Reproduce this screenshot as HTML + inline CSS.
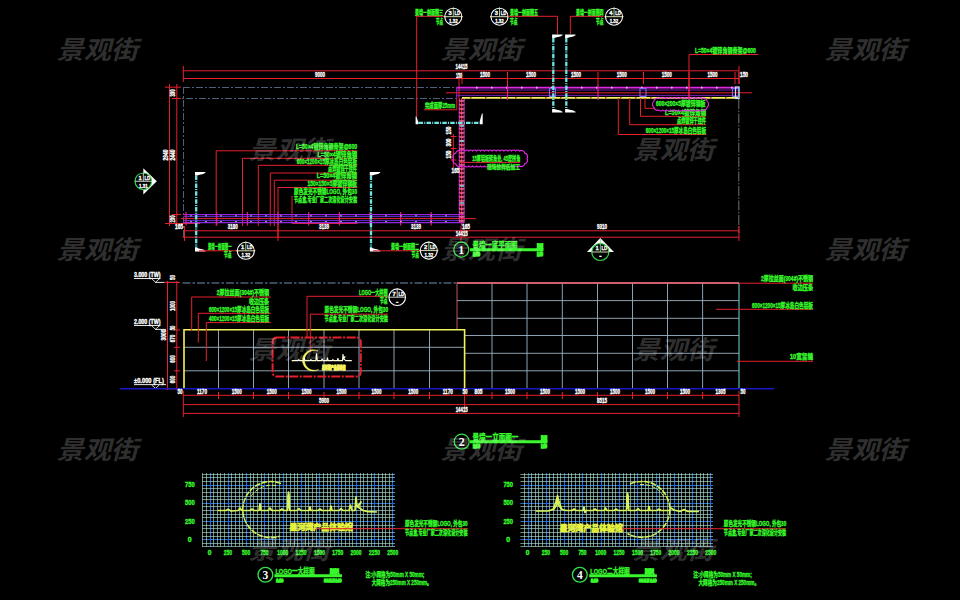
<!DOCTYPE html>
<html lang="zh"><head><meta charset="utf-8"><title>景墙详图</title>
<style>
html,body{margin:0;padding:0;background:#000;}
body{width:960px;height:600px;overflow:hidden;}
svg{display:block;font-family:"Liberation Sans","Noto Sans CJK SC",sans-serif;}
</style></head><body>
<svg width="960" height="600" viewBox="0 0 960 600">
<defs><clipPath id="cpA"><rect x="580" y="230" width="40" height="21.8"/></clipPath></defs>
<rect width="960" height="600" fill="#000"/>
<g id="plan">
<line x1="183" y1="87.5" x2="456.5" y2="87.5" stroke="#4d607a" stroke-width="1" stroke-dasharray="7 2 2 2"/>
<line x1="173" y1="98.5" x2="456.5" y2="98.5" stroke="#4d607a" stroke-width="1" stroke-dasharray="7 2 2 2"/>
<line x1="183.5" y1="87" x2="183.5" y2="238" stroke="#4d607a" stroke-width="1" stroke-dasharray="7 2 2 2"/>
<line x1="738.8" y1="99" x2="738.8" y2="233" stroke="#7c7c86" stroke-width="0.9" stroke-dasharray="10 1.5 1.5 1.5"/>
<line x1="183" y1="70.8" x2="739" y2="70.8" stroke="#e6212d" stroke-width="1"/>
<line x1="183" y1="78.5" x2="739" y2="78.5" stroke="#e6212d" stroke-width="1"/>
<line x1="183.3" y1="66" x2="183.3" y2="82" stroke="#e6212d" stroke-width="1"/>
<line x1="462" y1="72" x2="462" y2="84" stroke="#e6212d" stroke-width="1"/>
<line x1="507.5" y1="72" x2="507.5" y2="84" stroke="#e6212d" stroke-width="1"/>
<line x1="553" y1="72" x2="553" y2="84" stroke="#e6212d" stroke-width="1"/>
<line x1="598" y1="72" x2="598" y2="84" stroke="#e6212d" stroke-width="1"/>
<line x1="643.5" y1="72" x2="643.5" y2="84" stroke="#e6212d" stroke-width="1"/>
<line x1="689" y1="72" x2="689" y2="84" stroke="#e6212d" stroke-width="1"/>
<line x1="735" y1="72" x2="735" y2="84" stroke="#e6212d" stroke-width="1"/>
<line x1="739" y1="72" x2="739" y2="84" stroke="#e6212d" stroke-width="1"/>
<line x1="739" y1="66" x2="739" y2="84" stroke="#e6212d" stroke-width="1"/>
<line x1="459" y1="78.5" x2="459" y2="98" stroke="#e6212d" stroke-width="1"/>
<line x1="169.5" y1="84" x2="169.5" y2="226" stroke="#e6212d" stroke-width="1"/>
<line x1="176.8" y1="84" x2="176.8" y2="226" stroke="#e6212d" stroke-width="1"/>
<line x1="165" y1="87.2" x2="181" y2="87.2" stroke="#e6212d" stroke-width="1"/>
<line x1="172" y1="98.5" x2="181" y2="98.5" stroke="#e6212d" stroke-width="1"/>
<line x1="165" y1="223.5" x2="200" y2="223.5" stroke="#e6212d" stroke-width="1"/>
<line x1="172" y1="214.5" x2="181" y2="214.5" stroke="#e6212d" stroke-width="1"/>
<line x1="185" y1="230.8" x2="739" y2="230.8" stroke="#e6212d" stroke-width="1"/>
<line x1="182.5" y1="237.2" x2="739" y2="237.2" stroke="#e6212d" stroke-width="1"/>
<line x1="184.5" y1="226" x2="184.5" y2="241" stroke="#e6212d" stroke-width="1"/>
<line x1="278" y1="226" x2="278" y2="241" stroke="#e6212d" stroke-width="1"/>
<line x1="464" y1="226" x2="464" y2="234" stroke="#e6212d" stroke-width="1"/>
<line x1="739" y1="226" x2="739" y2="241" stroke="#e6212d" stroke-width="1"/>
<line x1="461" y1="226" x2="461" y2="241" stroke="#e6212d" stroke-width="1"/>
<polyline points="357.5,150.8 216.2,150.8 216.2,226" fill="none" stroke="#e6212d" stroke-width="1" />
<polyline points="357.5,158.3 242.5,158.3 242.5,226" fill="none" stroke="#e6212d" stroke-width="1" />
<polyline points="357.5,165.3 258.3,165.3 258.3,226" fill="none" stroke="#e6212d" stroke-width="1" />
<polyline points="357.5,173 270.3,173 270.3,226" fill="none" stroke="#e6212d" stroke-width="1" />
<polyline points="357.5,180.2 274.3,180.2 274.3,226" fill="none" stroke="#e6212d" stroke-width="1" />
<polyline points="357.5,187.5 278,187.5 278,238" fill="none" stroke="#e6212d" stroke-width="1" />
<polyline points="292,196 292,223.5 357.5,223.5" fill="none" stroke="#e6212d" stroke-width="1" />
<text x="296" y="149.468" fill="#38f82c" font-size="6.3" textLength="61" lengthAdjust="spacingAndGlyphs" font-weight="bold" stroke="#38f82c" stroke-width=".35" >L=50×4镀锌角钢骨架@600</text>
<text x="317.5" y="156.568" fill="#38f82c" font-size="6.3" textLength="39.5" lengthAdjust="spacingAndGlyphs" font-weight="bold" stroke="#38f82c" stroke-width=".35" >L=50×4镀锌角钢</text>
<text x="296.7" y="163.668" fill="#38f82c" font-size="6.3" textLength="60.3" lengthAdjust="spacingAndGlyphs" font-weight="bold" stroke="#38f82c" stroke-width=".35" >600×1200×15厚冰岛白色铝板</text>
<text x="328" y="171.468" fill="#38f82c" font-size="6.3" textLength="29" lengthAdjust="spacingAndGlyphs" font-weight="bold" stroke="#38f82c" stroke-width=".35" >点焊镀锌干挂件</text>
<text x="316.7" y="178.268" fill="#38f82c" font-size="6.3" textLength="40.3" lengthAdjust="spacingAndGlyphs" font-weight="bold" stroke="#38f82c" stroke-width=".35" >L=50×4镀锌角钢</text>
<text x="307.5" y="185.968" fill="#38f82c" font-size="6.3" textLength="49.5" lengthAdjust="spacingAndGlyphs" font-weight="bold" stroke="#38f82c" stroke-width=".35" >150×150×5厚镀锌钢板</text>
<text x="294" y="193.568" fill="#38f82c" font-size="6.3" textLength="63" lengthAdjust="spacingAndGlyphs" font-weight="bold" stroke="#38f82c" stroke-width=".35" >原色发光不锈钢LOGO, 外包30</text>
<text x="294" y="201.968" fill="#38f82c" font-size="6.3" textLength="63" lengthAdjust="spacingAndGlyphs" font-weight="bold" stroke="#38f82c" stroke-width=".35" >节点盒,专业厂家二次深化设计安装</text>
<line x1="183.5" y1="214.6" x2="464" y2="214.6" stroke="#8f28e0" stroke-width="1.1"/>
<line x1="183.5" y1="216.6" x2="464" y2="216.6" stroke="#6a30ee" stroke-width="0.9"/>
<line x1="181" y1="218.6" x2="476" y2="218.6" stroke="#e6212d" stroke-width="1"/>
<line x1="183.5" y1="220.6" x2="464" y2="220.6" stroke="#6a30ee" stroke-width="0.9"/>
<line x1="183.5" y1="222.6" x2="464" y2="222.6" stroke="#8f28e0" stroke-width="1.1"/>
<line x1="186" y1="212" x2="186" y2="225.5" stroke="#e0208a" stroke-width="1.2"/>
<line x1="216.7" y1="212" x2="216.7" y2="225.5" stroke="#e0208a" stroke-width="1.2"/>
<line x1="247.4" y1="212" x2="247.4" y2="225.5" stroke="#e0208a" stroke-width="1.2"/>
<line x1="278" y1="212" x2="278" y2="225.5" stroke="#e0208a" stroke-width="1.2"/>
<line x1="308.7" y1="212" x2="308.7" y2="225.5" stroke="#e0208a" stroke-width="1.2"/>
<line x1="339.4" y1="212" x2="339.4" y2="225.5" stroke="#e0208a" stroke-width="1.2"/>
<line x1="370.1" y1="212" x2="370.1" y2="225.5" stroke="#e0208a" stroke-width="1.2"/>
<line x1="400.6" y1="212" x2="400.6" y2="225.5" stroke="#e0208a" stroke-width="1.2"/>
<line x1="431.2" y1="212" x2="431.2" y2="225.5" stroke="#e0208a" stroke-width="1.2"/>
<line x1="461.7" y1="212" x2="461.7" y2="225.5" stroke="#e0208a" stroke-width="1.2"/>
<line x1="190" y1="215.8" x2="192" y2="215.8" stroke="#c8c8e8" stroke-width="0.8"/>
<line x1="190" y1="221.6" x2="192" y2="221.6" stroke="#c8c8e8" stroke-width="0.8"/>
<line x1="205" y1="215.8" x2="207" y2="215.8" stroke="#c8c8e8" stroke-width="0.8"/>
<line x1="205" y1="221.6" x2="207" y2="221.6" stroke="#c8c8e8" stroke-width="0.8"/>
<line x1="220" y1="215.8" x2="222" y2="215.8" stroke="#c8c8e8" stroke-width="0.8"/>
<line x1="220" y1="221.6" x2="222" y2="221.6" stroke="#c8c8e8" stroke-width="0.8"/>
<line x1="235" y1="215.8" x2="237" y2="215.8" stroke="#c8c8e8" stroke-width="0.8"/>
<line x1="235" y1="221.6" x2="237" y2="221.6" stroke="#c8c8e8" stroke-width="0.8"/>
<line x1="250" y1="215.8" x2="252" y2="215.8" stroke="#c8c8e8" stroke-width="0.8"/>
<line x1="250" y1="221.6" x2="252" y2="221.6" stroke="#c8c8e8" stroke-width="0.8"/>
<line x1="265" y1="215.8" x2="267" y2="215.8" stroke="#c8c8e8" stroke-width="0.8"/>
<line x1="265" y1="221.6" x2="267" y2="221.6" stroke="#c8c8e8" stroke-width="0.8"/>
<line x1="280" y1="215.8" x2="282" y2="215.8" stroke="#c8c8e8" stroke-width="0.8"/>
<line x1="280" y1="221.6" x2="282" y2="221.6" stroke="#c8c8e8" stroke-width="0.8"/>
<line x1="295" y1="215.8" x2="297" y2="215.8" stroke="#c8c8e8" stroke-width="0.8"/>
<line x1="295" y1="221.6" x2="297" y2="221.6" stroke="#c8c8e8" stroke-width="0.8"/>
<line x1="310" y1="215.8" x2="312" y2="215.8" stroke="#c8c8e8" stroke-width="0.8"/>
<line x1="310" y1="221.6" x2="312" y2="221.6" stroke="#c8c8e8" stroke-width="0.8"/>
<line x1="325" y1="215.8" x2="327" y2="215.8" stroke="#c8c8e8" stroke-width="0.8"/>
<line x1="325" y1="221.6" x2="327" y2="221.6" stroke="#c8c8e8" stroke-width="0.8"/>
<line x1="340" y1="215.8" x2="342" y2="215.8" stroke="#c8c8e8" stroke-width="0.8"/>
<line x1="340" y1="221.6" x2="342" y2="221.6" stroke="#c8c8e8" stroke-width="0.8"/>
<line x1="355" y1="215.8" x2="357" y2="215.8" stroke="#c8c8e8" stroke-width="0.8"/>
<line x1="355" y1="221.6" x2="357" y2="221.6" stroke="#c8c8e8" stroke-width="0.8"/>
<line x1="370" y1="215.8" x2="372" y2="215.8" stroke="#c8c8e8" stroke-width="0.8"/>
<line x1="370" y1="221.6" x2="372" y2="221.6" stroke="#c8c8e8" stroke-width="0.8"/>
<line x1="385" y1="215.8" x2="387" y2="215.8" stroke="#c8c8e8" stroke-width="0.8"/>
<line x1="385" y1="221.6" x2="387" y2="221.6" stroke="#c8c8e8" stroke-width="0.8"/>
<line x1="400" y1="215.8" x2="402" y2="215.8" stroke="#c8c8e8" stroke-width="0.8"/>
<line x1="400" y1="221.6" x2="402" y2="221.6" stroke="#c8c8e8" stroke-width="0.8"/>
<line x1="415" y1="215.8" x2="417" y2="215.8" stroke="#c8c8e8" stroke-width="0.8"/>
<line x1="415" y1="221.6" x2="417" y2="221.6" stroke="#c8c8e8" stroke-width="0.8"/>
<line x1="430" y1="215.8" x2="432" y2="215.8" stroke="#c8c8e8" stroke-width="0.8"/>
<line x1="430" y1="221.6" x2="432" y2="221.6" stroke="#c8c8e8" stroke-width="0.8"/>
<line x1="445" y1="215.8" x2="447" y2="215.8" stroke="#c8c8e8" stroke-width="0.8"/>
<line x1="445" y1="221.6" x2="447" y2="221.6" stroke="#c8c8e8" stroke-width="0.8"/>
<line x1="459.3" y1="98" x2="459.3" y2="223" stroke="#e326e3" stroke-width="1" stroke-dasharray="3 1"/>
<line x1="461.7" y1="98" x2="461.7" y2="223" stroke="#e6212d" stroke-width="1.4"/>
<line x1="464.1" y1="98" x2="464.1" y2="223" stroke="#e326e3" stroke-width="1" stroke-dasharray="3 1"/>
<line x1="458.8" y1="101" x2="464.6" y2="101" stroke="#ff6aa8" stroke-width="1.4"/>
<line x1="458.8" y1="105" x2="464.6" y2="105" stroke="#ff6aa8" stroke-width="1.4"/>
<line x1="458.8" y1="109" x2="464.6" y2="109" stroke="#ff6aa8" stroke-width="1.4"/>
<line x1="458.8" y1="113" x2="464.6" y2="113" stroke="#ff6aa8" stroke-width="1.4"/>
<line x1="458.8" y1="117" x2="464.6" y2="117" stroke="#ff6aa8" stroke-width="1.4"/>
<line x1="458.8" y1="121" x2="464.6" y2="121" stroke="#ff6aa8" stroke-width="1.4"/>
<line x1="458.8" y1="125" x2="464.6" y2="125" stroke="#ff6aa8" stroke-width="1.4"/>
<line x1="458.8" y1="129" x2="464.6" y2="129" stroke="#ff6aa8" stroke-width="1.4"/>
<line x1="458.8" y1="133" x2="464.6" y2="133" stroke="#ff6aa8" stroke-width="1.4"/>
<line x1="458.8" y1="137" x2="464.6" y2="137" stroke="#ff6aa8" stroke-width="1.4"/>
<line x1="458.8" y1="141" x2="464.6" y2="141" stroke="#ff6aa8" stroke-width="1.4"/>
<line x1="458.8" y1="145" x2="464.6" y2="145" stroke="#ff6aa8" stroke-width="1.4"/>
<line x1="458.8" y1="149" x2="464.6" y2="149" stroke="#ff6aa8" stroke-width="1.4"/>
<line x1="458.8" y1="153" x2="464.6" y2="153" stroke="#ff6aa8" stroke-width="1.4"/>
<line x1="458.8" y1="157" x2="464.6" y2="157" stroke="#ff6aa8" stroke-width="1.4"/>
<line x1="458.8" y1="161" x2="464.6" y2="161" stroke="#ff6aa8" stroke-width="1.4"/>
<line x1="458.8" y1="165" x2="464.6" y2="165" stroke="#ff6aa8" stroke-width="1.4"/>
<line x1="458.8" y1="169" x2="464.6" y2="169" stroke="#ff6aa8" stroke-width="1.4"/>
<line x1="458.8" y1="173" x2="464.6" y2="173" stroke="#ff6aa8" stroke-width="1.4"/>
<line x1="458.8" y1="177" x2="464.6" y2="177" stroke="#ff6aa8" stroke-width="1.4"/>
<line x1="458.8" y1="181" x2="464.6" y2="181" stroke="#ff6aa8" stroke-width="1.4"/>
<line x1="458.8" y1="185" x2="464.6" y2="185" stroke="#ff6aa8" stroke-width="1.4"/>
<line x1="458.8" y1="189" x2="464.6" y2="189" stroke="#ff6aa8" stroke-width="1.4"/>
<line x1="458.8" y1="193" x2="464.6" y2="193" stroke="#ff6aa8" stroke-width="1.4"/>
<line x1="458.8" y1="197" x2="464.6" y2="197" stroke="#ff6aa8" stroke-width="1.4"/>
<line x1="458.8" y1="201" x2="464.6" y2="201" stroke="#ff6aa8" stroke-width="1.4"/>
<line x1="458.8" y1="205" x2="464.6" y2="205" stroke="#ff6aa8" stroke-width="1.4"/>
<line x1="458.8" y1="209" x2="464.6" y2="209" stroke="#ff6aa8" stroke-width="1.4"/>
<line x1="458.8" y1="213" x2="464.6" y2="213" stroke="#ff6aa8" stroke-width="1.4"/>
<line x1="458.8" y1="217" x2="464.6" y2="217" stroke="#ff6aa8" stroke-width="1.4"/>
<line x1="458.8" y1="221" x2="464.6" y2="221" stroke="#ff6aa8" stroke-width="1.4"/>
<line x1="459.5" y1="126" x2="464" y2="126" stroke="#7ad8e8" stroke-width="1.4"/>
<line x1="459.5" y1="141" x2="464" y2="141" stroke="#7ad8e8" stroke-width="1.4"/>
<line x1="459.5" y1="186" x2="464" y2="186" stroke="#7ad8e8" stroke-width="1.4"/>
<line x1="459.5" y1="203" x2="464" y2="203" stroke="#7ad8e8" stroke-width="1.4"/>
<line x1="456.7" y1="87.6" x2="739" y2="87.6" stroke="#e326e3" stroke-width="1.8"/>
<line x1="456.7" y1="87" x2="456.7" y2="98" stroke="#8f28e0" stroke-width="1"/>
<line x1="456.7" y1="90" x2="739" y2="90" stroke="#8f28e0" stroke-width="0.8"/>
<line x1="446" y1="92.8" x2="752" y2="92.8" stroke="#e6212d" stroke-width="1"/>
<line x1="456.7" y1="95.4" x2="739" y2="95.4" stroke="#8f28e0" stroke-width="0.8"/>
<line x1="462" y1="97.8" x2="738" y2="97.8" stroke="#f4f45e" stroke-width="1.8"/>
<line x1="470" y1="97.8" x2="471.5" y2="97.8" stroke="#b04040" stroke-width="1.8"/>
<line x1="476" y1="87.6" x2="477.5" y2="87.6" stroke="#ffd0ff" stroke-width="1.8"/>
<line x1="485" y1="97.8" x2="486.5" y2="97.8" stroke="#b04040" stroke-width="1.8"/>
<line x1="491" y1="87.6" x2="492.5" y2="87.6" stroke="#ffd0ff" stroke-width="1.8"/>
<line x1="500" y1="97.8" x2="501.5" y2="97.8" stroke="#b04040" stroke-width="1.8"/>
<line x1="506" y1="87.6" x2="507.5" y2="87.6" stroke="#ffd0ff" stroke-width="1.8"/>
<line x1="515" y1="97.8" x2="516.5" y2="97.8" stroke="#b04040" stroke-width="1.8"/>
<line x1="521" y1="87.6" x2="522.5" y2="87.6" stroke="#ffd0ff" stroke-width="1.8"/>
<line x1="530" y1="97.8" x2="531.5" y2="97.8" stroke="#b04040" stroke-width="1.8"/>
<line x1="536" y1="87.6" x2="537.5" y2="87.6" stroke="#ffd0ff" stroke-width="1.8"/>
<line x1="545" y1="97.8" x2="546.5" y2="97.8" stroke="#b04040" stroke-width="1.8"/>
<line x1="551" y1="87.6" x2="552.5" y2="87.6" stroke="#ffd0ff" stroke-width="1.8"/>
<line x1="560" y1="97.8" x2="561.5" y2="97.8" stroke="#b04040" stroke-width="1.8"/>
<line x1="566" y1="87.6" x2="567.5" y2="87.6" stroke="#ffd0ff" stroke-width="1.8"/>
<line x1="575" y1="97.8" x2="576.5" y2="97.8" stroke="#b04040" stroke-width="1.8"/>
<line x1="581" y1="87.6" x2="582.5" y2="87.6" stroke="#ffd0ff" stroke-width="1.8"/>
<line x1="590" y1="97.8" x2="591.5" y2="97.8" stroke="#b04040" stroke-width="1.8"/>
<line x1="596" y1="87.6" x2="597.5" y2="87.6" stroke="#ffd0ff" stroke-width="1.8"/>
<line x1="605" y1="97.8" x2="606.5" y2="97.8" stroke="#b04040" stroke-width="1.8"/>
<line x1="611" y1="87.6" x2="612.5" y2="87.6" stroke="#ffd0ff" stroke-width="1.8"/>
<line x1="620" y1="97.8" x2="621.5" y2="97.8" stroke="#b04040" stroke-width="1.8"/>
<line x1="626" y1="87.6" x2="627.5" y2="87.6" stroke="#ffd0ff" stroke-width="1.8"/>
<line x1="635" y1="97.8" x2="636.5" y2="97.8" stroke="#b04040" stroke-width="1.8"/>
<line x1="641" y1="87.6" x2="642.5" y2="87.6" stroke="#ffd0ff" stroke-width="1.8"/>
<line x1="650" y1="97.8" x2="651.5" y2="97.8" stroke="#b04040" stroke-width="1.8"/>
<line x1="656" y1="87.6" x2="657.5" y2="87.6" stroke="#ffd0ff" stroke-width="1.8"/>
<line x1="665" y1="97.8" x2="666.5" y2="97.8" stroke="#b04040" stroke-width="1.8"/>
<line x1="671" y1="87.6" x2="672.5" y2="87.6" stroke="#ffd0ff" stroke-width="1.8"/>
<line x1="680" y1="97.8" x2="681.5" y2="97.8" stroke="#b04040" stroke-width="1.8"/>
<line x1="686" y1="87.6" x2="687.5" y2="87.6" stroke="#ffd0ff" stroke-width="1.8"/>
<line x1="695" y1="97.8" x2="696.5" y2="97.8" stroke="#b04040" stroke-width="1.8"/>
<line x1="701" y1="87.6" x2="702.5" y2="87.6" stroke="#ffd0ff" stroke-width="1.8"/>
<line x1="710" y1="97.8" x2="711.5" y2="97.8" stroke="#b04040" stroke-width="1.8"/>
<line x1="716" y1="87.6" x2="717.5" y2="87.6" stroke="#ffd0ff" stroke-width="1.8"/>
<line x1="725" y1="97.8" x2="726.5" y2="97.8" stroke="#b04040" stroke-width="1.8"/>
<line x1="731" y1="87.6" x2="732.5" y2="87.6" stroke="#ffd0ff" stroke-width="1.8"/>
<rect x="549.5" y="88.5" width="6" height="8" fill="none" stroke="#7a6cf0" stroke-width="1"/>
<rect x="640.0" y="88.5" width="6" height="8" fill="none" stroke="#7a6cf0" stroke-width="1"/>
<rect x="732.5" y="88.5" width="6" height="8" fill="none" stroke="#7a6cf0" stroke-width="1"/>
<rect x="735.5" y="87" width="3.6" height="11.5" fill="none" stroke="#bfe4f4" stroke-width="1.2"/>
<line x1="507.5" y1="84" x2="507.5" y2="100" stroke="#e0208a" stroke-width="1.2"/>
<line x1="598" y1="84" x2="598" y2="100" stroke="#e0208a" stroke-width="1.2"/>
<line x1="689" y1="84" x2="689" y2="100" stroke="#e0208a" stroke-width="1.2"/>
<polyline points="758.3,54.5 689,54.5 689,99" fill="none" stroke="#e6212d" stroke-width="1" />
<text x="695" y="52.568" fill="#38f82c" font-size="6.3" textLength="60.8" lengthAdjust="spacingAndGlyphs" font-weight="bold" stroke="#38f82c" stroke-width=".35" >L=50×4镀锌角钢骨架@600</text>
<polyline points="645,98 645,108.3 655,108.3" fill="none" stroke="#e6212d" stroke-width="1" />
<polyline points="640.5,98 640.5,116.3 706,116.3" fill="none" stroke="#e6212d" stroke-width="1" />
<polyline points="629.7,98 629.7,124.7 706,124.7" fill="none" stroke="#e6212d" stroke-width="1" />
<polyline points="618.3,98 618.3,134.5 706,134.5" fill="none" stroke="#e6212d" stroke-width="1" />
<text x="656" y="106.268" fill="#38f82c" font-size="6.3" textLength="49.5" lengthAdjust="spacingAndGlyphs" font-weight="bold" stroke="#38f82c" stroke-width=".35" >600×200×5厚镀锌钢板</text>
<text x="665" y="114.868" fill="#38f82c" font-size="6.3" textLength="41" lengthAdjust="spacingAndGlyphs" font-weight="bold" stroke="#38f82c" stroke-width=".35" >L=50×4镀锌角钢</text>
<text x="677" y="123.068" fill="#38f82c" font-size="6.3" textLength="29" lengthAdjust="spacingAndGlyphs" font-weight="bold" stroke="#38f82c" stroke-width=".35" >点焊镀锌干挂件</text>
<text x="645.8" y="132.868" fill="#38f82c" font-size="6.3" textLength="60.2" lengthAdjust="spacingAndGlyphs" font-weight="bold" stroke="#38f82c" stroke-width=".35" >600×1200×15厚冰岛白色铝板</text>
<path d="M658.8,98.5A2.45,2.45 0 0 1 662.7,98.5A2.45,2.45 0 0 1 666.7,98.5A2.45,2.45 0 0 1 670.6,98.5A2.45,2.45 0 0 1 674.6,98.5A2.45,2.45 0 0 1 678.5,98.5A2.45,2.45 0 0 1 682.5,98.5A2.45,2.45 0 0 1 686.4,98.5A2.45,2.45 0 0 1 690.4,98.5A2.45,2.45 0 0 1 694.3,98.5A2.45,2.45 0 0 1 698.3,98.5A2.45,2.45 0 0 1 702.2,98.5A3.56,3.56 0 0 1 707.2,101.4A3.56,3.56 0 0 1 707.2,107.1A3.56,3.56 0 0 1 702.2,110.0A2.45,2.45 0 0 1 698.3,110.0A2.45,2.45 0 0 1 694.3,110.0A2.45,2.45 0 0 1 690.4,110.0A2.45,2.45 0 0 1 686.4,110.0A2.45,2.45 0 0 1 682.5,110.0A2.45,2.45 0 0 1 678.5,110.0A2.45,2.45 0 0 1 674.6,110.0A2.45,2.45 0 0 1 670.6,110.0A2.45,2.45 0 0 1 666.7,110.0A2.45,2.45 0 0 1 662.7,110.0A2.45,2.45 0 0 1 658.8,110.0A3.56,3.56 0 0 1 653.8,107.1A3.56,3.56 0 0 1 653.8,101.4A3.56,3.56 0 0 1 658.8,98.5" fill="none" stroke="#e326e3" stroke-width="1.1"/>
<text x="425" y="107.868" fill="#38f82c" font-size="6.3" textLength="30" lengthAdjust="spacingAndGlyphs" font-weight="bold" stroke="#38f82c" stroke-width=".35" >完成面厚25mm</text>
<polyline points="424,109.8 456.8,109.8 456.8,98" fill="none" stroke="#e6212d" stroke-width="1" />
<line x1="418.6" y1="122.9" x2="479.8" y2="122.9" stroke="#6fe6e6" stroke-width="2.1" stroke-dasharray="4.5 1.2 1 1.2"/>
<polyline points="416.7,16.3 416.7,117" fill="none" stroke="#e6212d" stroke-width="1" />
<path d="M415.6,124.2V116.5h.8l1.2,3.5 .8,2v2.2z" fill="#fff"/>
<path d="M482.7,124.2V113.4h-.8l-1.2,4.4 -.9,3.5v2.9z" fill="#fff"/>
<line x1="453.3" y1="134" x2="453.3" y2="168" stroke="#e6212d" stroke-width="1"/>
<line x1="450.5" y1="136.5" x2="456.5" y2="136.5" stroke="#e6212d" stroke-width="1"/>
<line x1="450.5" y1="148.5" x2="456.5" y2="148.5" stroke="#e6212d" stroke-width="1"/>
<line x1="450.5" y1="160" x2="456.5" y2="160" stroke="#e6212d" stroke-width="1"/>
<text x="449" y="130.5" fill="#fff" stroke="#fff" stroke-width=".35" font-weight="bold" font-size="6.6" text-anchor="middle" textLength="8" lengthAdjust="spacingAndGlyphs" transform="rotate(-90 449 130.5)" dy="2.376">150</text>
<text x="449" y="142.5" fill="#fff" stroke="#fff" stroke-width=".35" font-weight="bold" font-size="6.6" text-anchor="middle" textLength="8" lengthAdjust="spacingAndGlyphs" transform="rotate(-90 449 142.5)" dy="2.376">300</text>
<text x="449" y="154.5" fill="#fff" stroke="#fff" stroke-width=".35" font-weight="bold" font-size="6.6" text-anchor="middle" textLength="8" lengthAdjust="spacingAndGlyphs" transform="rotate(-90 449 154.5)" dy="2.376">150</text>
<text x="451.5" y="172.876" fill="#ffffff" font-size="6.6" textLength="8" lengthAdjust="spacingAndGlyphs" font-weight="bold" stroke="#ffffff" stroke-width=".35" >165</text>
<path d="M461.0,151.0A2.42,2.42 0 0 1 464.9,151.0A2.42,2.42 0 0 1 468.8,151.0A2.42,2.42 0 0 1 472.7,151.0A2.42,2.42 0 0 1 476.6,151.0A2.42,2.42 0 0 1 480.5,151.0A2.42,2.42 0 0 1 484.4,151.0A2.42,2.42 0 0 1 488.3,151.0A2.42,2.42 0 0 1 492.2,151.0A2.42,2.42 0 0 1 496.1,151.0A2.42,2.42 0 0 1 500.0,151.0A2.42,2.42 0 0 1 503.9,151.0A2.42,2.42 0 0 1 507.8,151.0A2.42,2.42 0 0 1 511.7,151.0A2.42,2.42 0 0 1 515.6,151.0A2.42,2.42 0 0 1 519.5,151.0A3.56,3.56 0 0 1 524.8,153.2A3.56,3.56 0 0 1 527.0,158.5A3.56,3.56 0 0 1 524.8,163.8A3.56,3.56 0 0 1 519.5,166.0A2.42,2.42 0 0 1 515.6,166.0A2.42,2.42 0 0 1 511.7,166.0A2.42,2.42 0 0 1 507.8,166.0A2.42,2.42 0 0 1 503.9,166.0A2.42,2.42 0 0 1 500.0,166.0A2.42,2.42 0 0 1 496.1,166.0A2.42,2.42 0 0 1 492.2,166.0A2.42,2.42 0 0 1 488.3,166.0A2.42,2.42 0 0 1 484.4,166.0A2.42,2.42 0 0 1 480.5,166.0A2.42,2.42 0 0 1 476.6,166.0A2.42,2.42 0 0 1 472.7,166.0A2.42,2.42 0 0 1 468.8,166.0A2.42,2.42 0 0 1 464.9,166.0A2.42,2.42 0 0 1 461.0,166.0A3.56,3.56 0 0 1 455.7,163.8A3.56,3.56 0 0 1 453.5,158.5A3.56,3.56 0 0 1 455.7,153.2A3.56,3.56 0 0 1 461.0,151.0" fill="none" stroke="#e326e3" stroke-width="1.2"/>
<text x="472.3" y="160.776" fill="#38f82c" font-size="6.6" textLength="47.9" lengthAdjust="spacingAndGlyphs" font-weight="bold" stroke="#38f82c" stroke-width=".35" >15厚铝板转角处, 45度拼角</text>
<line x1="460" y1="162.4" x2="520" y2="162.4" stroke="#e6212d" stroke-width="1"/>
<text x="487" y="169.28799999999998" fill="#38f82c" font-size="5.8" textLength="33" lengthAdjust="spacingAndGlyphs" font-weight="bold" stroke="#38f82c" stroke-width=".35" >现场放样后加工</text>
<line x1="196.2" y1="175.5" x2="196.2" y2="248" stroke="#6fe6e6" stroke-width="2.3" stroke-dasharray="4.5 1.2 1 1.2"/>
<path d="M195.0,172.0h10.4v.8l-2.2,1.2 -3.5,.8 -2.5,.8h-2.2z" fill="#fff"/>
<path d="M195.0,251.5h10.4v-.8l-2.2,-1.2 -3.5,-.8 -2.5,-.8h-2.2z" fill="#fff"/>
<line x1="371" y1="175.5" x2="371" y2="248" stroke="#6fe6e6" stroke-width="2.3" stroke-dasharray="4.5 1.2 1 1.2"/>
<path d="M369.8,172.0h10.4v.8l-2.2,1.2 -3.5,.8 -2.5,.8h-2.2z" fill="#fff"/>
<path d="M369.8,251.5h10.4v-.8l-2.2,-1.2 -3.5,-.8 -2.5,-.8h-2.2z" fill="#fff"/>
<line x1="553.3" y1="38" x2="553.3" y2="109" stroke="#6fe6e6" stroke-width="2.3" stroke-dasharray="4.5 1.2 1 1.2"/>
<path d="M552.0999999999999,34.5h10.4v.8l-2.2,1.2 -3.5,.8 -2.5,.8h-2.2z" fill="#fff"/>
<path d="M552.0999999999999,112.5h10.4v-.8l-2.2,-1.2 -3.5,-.8 -2.5,-.8h-2.2z" fill="#fff"/>
<line x1="566.3" y1="38" x2="566.3" y2="109" stroke="#6fe6e6" stroke-width="2.3" stroke-dasharray="4.5 1.2 1 1.2"/>
<path d="M565.0999999999999,34.5h10.4v.8l-2.2,1.2 -3.5,.8 -2.5,.8h-2.2z" fill="#fff"/>
<path d="M565.0999999999999,112.5h10.4v-.8l-2.2,-1.2 -3.5,-.8 -2.5,-.8h-2.2z" fill="#fff"/>
<text x="208" y="248.868" fill="#38f82c" font-size="6.3" textLength="23.5" lengthAdjust="spacingAndGlyphs" font-weight="bold" stroke="#38f82c" stroke-width=".35" >景墙一剖面图一</text>
<line x1="199" y1="250.8" x2="237" y2="250.8" stroke="#e6212d" stroke-width="1"/>
<text x="224" y="257.268" fill="#38f82c" font-size="6.3" textLength="7.5" lengthAdjust="spacingAndGlyphs" font-weight="bold" stroke="#38f82c" stroke-width=".35" >节点</text>
<circle cx="245.8" cy="250.8" r="8.5" fill="none" stroke="#ffffff" stroke-width="1.1"/>
<line x1="236.3" y1="250.8" x2="255.3" y2="250.8" stroke="#f6f6cf" stroke-width="0.9"/>
<line x1="245.8" y1="241.5" x2="245.8" y2="250.8" stroke="#a6ec9f" stroke-width="0.9"/>
<text x="241.0" y="249.20000000000002" fill="#ffffff" font-size="6.2" textLength="3.2" lengthAdjust="spacingAndGlyphs" font-weight="bold" stroke="#ffffff" stroke-width=".35" >1</text>
<text x="247.0" y="249.20000000000002" fill="#ffffff" font-size="6.2" textLength="5.6" lengthAdjust="spacingAndGlyphs" font-weight="bold" stroke="#ffffff" stroke-width=".35" >LD</text>
<text x="245.8" y="257.0" fill="#ffffff" font-size="6.2" text-anchor="middle" textLength="8.6" lengthAdjust="spacingAndGlyphs" font-weight="bold" stroke="#ffffff" stroke-width=".35" >1.32</text>
<text x="391" y="248.868" fill="#38f82c" font-size="6.3" textLength="28" lengthAdjust="spacingAndGlyphs" font-weight="bold" stroke="#38f82c" stroke-width=".35" >景墙一剖面图二</text>
<line x1="373" y1="250.8" x2="420" y2="250.8" stroke="#e6212d" stroke-width="1"/>
<text x="411.5" y="257.268" fill="#38f82c" font-size="6.3" textLength="7.5" lengthAdjust="spacingAndGlyphs" font-weight="bold" stroke="#38f82c" stroke-width=".35" >节点</text>
<circle cx="428.8" cy="250.6" r="8.5" fill="none" stroke="#ffffff" stroke-width="1.1"/>
<line x1="419.3" y1="250.6" x2="438.3" y2="250.6" stroke="#f6f6cf" stroke-width="0.9"/>
<line x1="428.8" y1="241.29999999999998" x2="428.8" y2="250.6" stroke="#a6ec9f" stroke-width="0.9"/>
<text x="424.0" y="249.0" fill="#ffffff" font-size="6.2" textLength="3.2" lengthAdjust="spacingAndGlyphs" font-weight="bold" stroke="#ffffff" stroke-width=".35" >2</text>
<text x="430.0" y="249.0" fill="#ffffff" font-size="6.2" textLength="5.6" lengthAdjust="spacingAndGlyphs" font-weight="bold" stroke="#ffffff" stroke-width=".35" >LD</text>
<text x="428.8" y="256.8" fill="#ffffff" font-size="6.2" text-anchor="middle" textLength="8.6" lengthAdjust="spacingAndGlyphs" font-weight="bold" stroke="#ffffff" stroke-width=".35" >1.32</text>
<text x="415" y="14.768" fill="#38f82c" font-size="6.3" textLength="28" lengthAdjust="spacingAndGlyphs" font-weight="bold" stroke="#38f82c" stroke-width=".35" >景墙一剖面图三</text>
<line x1="416.7" y1="16.3" x2="445" y2="16.3" stroke="#e6212d" stroke-width="1"/>
<text x="436" y="23.568" fill="#38f82c" font-size="6.3" textLength="7" lengthAdjust="spacingAndGlyphs" font-weight="bold" stroke="#38f82c" stroke-width=".35" >节点</text>
<circle cx="453.3" cy="16.7" r="8.5" fill="none" stroke="#ffffff" stroke-width="1.1"/>
<line x1="443.8" y1="16.7" x2="462.8" y2="16.7" stroke="#f6f6cf" stroke-width="0.9"/>
<line x1="453.3" y1="7.3999999999999995" x2="453.3" y2="16.7" stroke="#a6ec9f" stroke-width="0.9"/>
<text x="448.5" y="15.1" fill="#ffffff" font-size="6.2" textLength="3.2" lengthAdjust="spacingAndGlyphs" font-weight="bold" stroke="#ffffff" stroke-width=".35" >3</text>
<text x="454.5" y="15.1" fill="#ffffff" font-size="6.2" textLength="5.6" lengthAdjust="spacingAndGlyphs" font-weight="bold" stroke="#ffffff" stroke-width=".35" >LD</text>
<text x="453.3" y="22.9" fill="#ffffff" font-size="6.2" text-anchor="middle" textLength="8.6" lengthAdjust="spacingAndGlyphs" font-weight="bold" stroke="#ffffff" stroke-width=".35" >1.32</text>
<circle cx="499.5" cy="16.7" r="8.5" fill="none" stroke="#ffffff" stroke-width="1.1"/>
<line x1="490.0" y1="16.7" x2="509.0" y2="16.7" stroke="#f6f6cf" stroke-width="0.9"/>
<line x1="499.5" y1="7.3999999999999995" x2="499.5" y2="16.7" stroke="#a6ec9f" stroke-width="0.9"/>
<text x="494.7" y="15.1" fill="#ffffff" font-size="6.2" textLength="3.2" lengthAdjust="spacingAndGlyphs" font-weight="bold" stroke="#ffffff" stroke-width=".35" >3</text>
<text x="500.7" y="15.1" fill="#ffffff" font-size="6.2" textLength="5.6" lengthAdjust="spacingAndGlyphs" font-weight="bold" stroke="#ffffff" stroke-width=".35" >LD</text>
<text x="499.5" y="22.9" fill="#ffffff" font-size="6.2" text-anchor="middle" textLength="8.6" lengthAdjust="spacingAndGlyphs" font-weight="bold" stroke="#ffffff" stroke-width=".35" >1.32</text>
<text x="510" y="14.768" fill="#38f82c" font-size="6.3" textLength="28" lengthAdjust="spacingAndGlyphs" font-weight="bold" stroke="#38f82c" stroke-width=".35" >景墙一剖面图五</text>
<polyline points="508,16.3 557.5,16.3 557.5,34" fill="none" stroke="#e6212d" stroke-width="1" />
<text x="510" y="23.568" fill="#38f82c" font-size="6.3" textLength="7.5" lengthAdjust="spacingAndGlyphs" font-weight="bold" stroke="#38f82c" stroke-width=".35" >节点</text>
<text x="576" y="14.768" fill="#38f82c" font-size="6.3" textLength="27.5" lengthAdjust="spacingAndGlyphs" font-weight="bold" stroke="#38f82c" stroke-width=".35" >景墙一剖面图四</text>
<polyline points="603.5,16.3 570.3,16.3 570.3,34" fill="none" stroke="#e6212d" stroke-width="1" />
<text x="596" y="23.568" fill="#38f82c" font-size="6.3" textLength="7.5" lengthAdjust="spacingAndGlyphs" font-weight="bold" stroke="#38f82c" stroke-width=".35" >节点</text>
<circle cx="614" cy="16.7" r="8.5" fill="none" stroke="#ffffff" stroke-width="1.1"/>
<line x1="604.5" y1="16.7" x2="623.5" y2="16.7" stroke="#f6f6cf" stroke-width="0.9"/>
<line x1="614" y1="7.3999999999999995" x2="614" y2="16.7" stroke="#a6ec9f" stroke-width="0.9"/>
<text x="609.2" y="15.1" fill="#ffffff" font-size="6.2" textLength="3.2" lengthAdjust="spacingAndGlyphs" font-weight="bold" stroke="#ffffff" stroke-width=".35" >4</text>
<text x="615.2" y="15.1" fill="#ffffff" font-size="6.2" textLength="5.6" lengthAdjust="spacingAndGlyphs" font-weight="bold" stroke="#ffffff" stroke-width=".35" >LD</text>
<text x="614" y="22.9" fill="#ffffff" font-size="6.2" text-anchor="middle" textLength="8.6" lengthAdjust="spacingAndGlyphs" font-weight="bold" stroke="#ffffff" stroke-width=".35" >1.32</text>
<path d="M143.3,168.3L156.8,181.3L143.3,194.5z" fill="#fff"/>
<circle cx="143.3" cy="181.3" r="8.3" fill="#000" stroke="#35d24a" stroke-width="1.2"/>
<line x1="135" y1="181.3" x2="151.6" y2="181.3" stroke="#ffffff" stroke-width="0.8"/>
<line x1="143.3" y1="173" x2="143.3" y2="181.3" stroke="#ffffff" stroke-width="0.8"/>
<text x="138.4" y="179.6" fill="#ffffff" font-size="6.2" textLength="3.2" lengthAdjust="spacingAndGlyphs" font-weight="bold" stroke="#ffffff" stroke-width=".35" >1</text>
<text x="144.5" y="179.6" fill="#ffffff" font-size="6.2" textLength="5.6" lengthAdjust="spacingAndGlyphs" font-weight="bold" stroke="#ffffff" stroke-width=".35" >LD</text>
<text x="143.3" y="187.5" fill="#ffffff" font-size="6.2" text-anchor="middle" textLength="8.6" lengthAdjust="spacingAndGlyphs" font-weight="bold" stroke="#ffffff" stroke-width=".35" >1.31</text>
<path d="M587,252L600.3,238L614,252z" fill="#fff"/>
<circle cx="600.3" cy="252" r="8.5" fill="#000" stroke="#35d24a" stroke-width="1.2"/>
<line x1="591.8" y1="252" x2="608.8" y2="252" stroke="#f0f0c0" stroke-width="0.9"/>
<line x1="600.3" y1="239" x2="600.3" y2="252" stroke="#7fe07f" stroke-width="0.9"/>
<text x="595.4" y="250.2" fill="#ffffff" font-size="6.2" textLength="3.2" lengthAdjust="spacingAndGlyphs" font-weight="bold" stroke="#ffffff" stroke-width=".35" >1</text>
<text x="601.5" y="250.2" fill="#ffffff" font-size="6.2" textLength="5.6" lengthAdjust="spacingAndGlyphs" font-weight="bold" stroke="#ffffff" stroke-width=".35" >LD</text>
<text x="600.3" y="258.4" fill="#ffffff" font-size="7" text-anchor="middle" font-weight="bold" stroke="#ffffff" stroke-width=".35" >-</text>
<text x="315.0" y="77.376" fill="#ffffff" font-size="6.6" textLength="10" lengthAdjust="spacingAndGlyphs" font-weight="bold" stroke="#ffffff" stroke-width=".35" >9000</text>
<text x="455.5" y="69.07600000000001" fill="#ffffff" font-size="6.6" textLength="12" lengthAdjust="spacingAndGlyphs" font-weight="bold" stroke="#ffffff" stroke-width=".35" >14415</text>
<text x="456.0" y="77.676" fill="#ffffff" font-size="6.6" textLength="6" lengthAdjust="spacingAndGlyphs" font-weight="bold" stroke="#ffffff" stroke-width=".35" >150</text>
<text x="480.0" y="77.376" fill="#ffffff" font-size="6.6" textLength="10" lengthAdjust="spacingAndGlyphs" font-weight="bold" stroke="#ffffff" stroke-width=".35" >1500</text>
<text x="526.0" y="77.376" fill="#ffffff" font-size="6.6" textLength="10" lengthAdjust="spacingAndGlyphs" font-weight="bold" stroke="#ffffff" stroke-width=".35" >1500</text>
<text x="571.0" y="77.376" fill="#ffffff" font-size="6.6" textLength="10" lengthAdjust="spacingAndGlyphs" font-weight="bold" stroke="#ffffff" stroke-width=".35" >1500</text>
<text x="616.7" y="77.376" fill="#ffffff" font-size="6.6" textLength="10" lengthAdjust="spacingAndGlyphs" font-weight="bold" stroke="#ffffff" stroke-width=".35" >1500</text>
<text x="661.7" y="77.376" fill="#ffffff" font-size="6.6" textLength="10" lengthAdjust="spacingAndGlyphs" font-weight="bold" stroke="#ffffff" stroke-width=".35" >1500</text>
<text x="707.5" y="77.376" fill="#ffffff" font-size="6.6" textLength="10" lengthAdjust="spacingAndGlyphs" font-weight="bold" stroke="#ffffff" stroke-width=".35" >1500</text>
<text x="740.0" y="77.376" fill="#ffffff" font-size="6.6" textLength="8" lengthAdjust="spacingAndGlyphs" font-weight="bold" stroke="#ffffff" stroke-width=".35" >150</text>
<text x="172.8" y="93" fill="#fff" stroke="#fff" stroke-width=".35" font-weight="bold" font-size="6.6" text-anchor="middle" textLength="7" lengthAdjust="spacingAndGlyphs" transform="rotate(-90 172.8 93)" dy="2.376">300</text>
<text x="172.8" y="155" fill="#fff" stroke="#fff" stroke-width=".35" font-weight="bold" font-size="6.6" text-anchor="middle" textLength="11" lengthAdjust="spacingAndGlyphs" transform="rotate(-90 172.8 155)" dy="2.376">2440</text>
<text x="165.3" y="155" fill="#fff" stroke="#fff" stroke-width=".35" font-weight="bold" font-size="6.6" text-anchor="middle" textLength="11" lengthAdjust="spacingAndGlyphs" transform="rotate(-90 165.3 155)" dy="2.376">2940</text>
<text x="172.8" y="219" fill="#fff" stroke="#fff" stroke-width=".35" font-weight="bold" font-size="6.6" text-anchor="middle" textLength="7" lengthAdjust="spacingAndGlyphs" transform="rotate(-90 172.8 219)" dy="2.376">200</text>
<text x="175.0" y="229.376" fill="#ffffff" font-size="6.6" textLength="8" lengthAdjust="spacingAndGlyphs" font-weight="bold" stroke="#ffffff" stroke-width=".35" >165</text>
<text x="227.8" y="229.376" fill="#ffffff" font-size="6.6" textLength="10" lengthAdjust="spacingAndGlyphs" font-weight="bold" stroke="#ffffff" stroke-width=".35" >3180</text>
<text x="319.0" y="229.376" fill="#ffffff" font-size="6.6" textLength="10" lengthAdjust="spacingAndGlyphs" font-weight="bold" stroke="#ffffff" stroke-width=".35" >3139</text>
<text x="411.0" y="229.376" fill="#ffffff" font-size="6.6" textLength="10" lengthAdjust="spacingAndGlyphs" font-weight="bold" stroke="#ffffff" stroke-width=".35" >3139</text>
<text x="462.0" y="229.376" fill="#ffffff" font-size="6.6" textLength="8" lengthAdjust="spacingAndGlyphs" font-weight="bold" stroke="#ffffff" stroke-width=".35" >165</text>
<text x="455.7" y="236.276" fill="#ffffff" font-size="6.6" textLength="12" lengthAdjust="spacingAndGlyphs" font-weight="bold" stroke="#ffffff" stroke-width=".35" >14415</text>
<text x="597.0" y="229.376" fill="#ffffff" font-size="6.6" textLength="10" lengthAdjust="spacingAndGlyphs" font-weight="bold" stroke="#ffffff" stroke-width=".35" >9310</text>
<circle cx="461.3" cy="249.6" r="7.5" fill="none" stroke="#33e04a" stroke-width="1.3"/>
<text x="461.3" y="253.79999999999998" fill="#ffffff" font-size="12" text-anchor="middle" font-weight="bold" font-family="Liberation Serif,serif">1</text>
<text x="472.5" y="247.724" fill="#38f82c" font-size="8.4" textLength="45.0" lengthAdjust="spacingAndGlyphs" font-weight="bold" stroke="#38f82c" stroke-width=".35" >景墙一底平面图</text>
<line x1="470.0" y1="249.7" x2="543.5" y2="249.7" stroke="#38f82c" stroke-width="3"/>
<text x="473.0" y="255.656" fill="#38f82c" stroke="#38f82c" stroke-width="1.5" font-weight="bold" font-size="4.6" textLength="7.0" lengthAdjust="spacingAndGlyphs">1:50</text>
<text x="537.0" y="247.956" fill="#38f82c" stroke="#38f82c" stroke-width="1.5" font-weight="bold" font-size="4.6" textLength="6.0" lengthAdjust="spacingAndGlyphs">比例</text>
<text x="537.0" y="255.656" fill="#38f82c" stroke="#38f82c" stroke-width="1.5" font-weight="bold" font-size="4.6" textLength="6.0" lengthAdjust="spacingAndGlyphs">1:50</text>
</g>
<g id="elev">
<text x="134" y="277.0" fill="#ffffff" font-size="6.8" textLength="26.5" lengthAdjust="spacingAndGlyphs" font-weight="bold" stroke="#ffffff" stroke-width=".35" >3.000 (TW)</text>
<line x1="134" y1="278.5" x2="160.5" y2="278.5" stroke="#ffffff" stroke-width="0.9"/>
<path d="M151.5,278.7L155.5,282.2L159.5,278.7" fill="none" stroke="#fff" stroke-width=".8"/>
<line x1="155" y1="282.4" x2="179" y2="282.4" stroke="#ffffff" stroke-width="0.9"/>
<text x="134" y="324.0" fill="#ffffff" font-size="6.8" textLength="26.5" lengthAdjust="spacingAndGlyphs" font-weight="bold" stroke="#ffffff" stroke-width=".35" >2.000 (TW)</text>
<line x1="134" y1="325.5" x2="160.5" y2="325.5" stroke="#ffffff" stroke-width="0.9"/>
<path d="M151.5,325.7L155.5,329.2L159.5,325.7" fill="none" stroke="#fff" stroke-width=".8"/>
<line x1="155" y1="329.4" x2="166" y2="329.4" stroke="#ffffff" stroke-width="0.9"/>
<text x="134" y="382.8" fill="#ffffff" font-size="6.8" textLength="30" lengthAdjust="spacingAndGlyphs" font-weight="bold" stroke="#ffffff" stroke-width=".35" >±0.000 (FL)</text>
<line x1="134" y1="384.6" x2="166" y2="384.6" stroke="#ffffff" stroke-width="0.9"/>
<path d="M151.5,384.8L155.5,388.4L159.5,384.8" fill="none" stroke="#fff" stroke-width=".8"/>
<line x1="167.5" y1="281" x2="167.5" y2="390" stroke="#e6212d" stroke-width="1"/>
<line x1="176.8" y1="281" x2="176.8" y2="390" stroke="#e6212d" stroke-width="1"/>
<line x1="174" y1="282.5" x2="180" y2="282.5" stroke="#e6212d" stroke-width="1"/>
<line x1="174" y1="330" x2="180" y2="330" stroke="#e6212d" stroke-width="1"/>
<line x1="174" y1="347.3" x2="180" y2="347.3" stroke="#e6212d" stroke-width="1"/>
<line x1="174" y1="370.8" x2="180" y2="370.8" stroke="#e6212d" stroke-width="1"/>
<line x1="174" y1="388.6" x2="180" y2="388.6" stroke="#e6212d" stroke-width="1"/>
<line x1="164" y1="282.5" x2="180" y2="282.5" stroke="#e6212d" stroke-width="1"/>
<line x1="164" y1="388.8" x2="180" y2="388.8" stroke="#e6212d" stroke-width="1"/>
<text x="173" y="277.5" fill="#fff" stroke="#fff" stroke-width=".35" font-weight="bold" font-size="6.6" text-anchor="middle" textLength="5" lengthAdjust="spacingAndGlyphs" transform="rotate(-90 173 277.5)" dy="2.376">50</text>
<text x="173" y="306" fill="#fff" stroke="#fff" stroke-width=".35" font-weight="bold" font-size="6.6" text-anchor="middle" textLength="10" lengthAdjust="spacingAndGlyphs" transform="rotate(-90 173 306)" dy="2.376">1000</text>
<text x="173" y="328" fill="#fff" stroke="#fff" stroke-width=".35" font-weight="bold" font-size="6.6" text-anchor="middle" textLength="4.5" lengthAdjust="spacingAndGlyphs" transform="rotate(-90 173 328)" dy="2.376">50</text>
<text x="173" y="338.5" fill="#fff" stroke="#fff" stroke-width=".35" font-weight="bold" font-size="6.6" text-anchor="middle" textLength="7.5" lengthAdjust="spacingAndGlyphs" transform="rotate(-90 173 338.5)" dy="2.376">670</text>
<text x="173" y="359" fill="#fff" stroke="#fff" stroke-width=".35" font-weight="bold" font-size="6.6" text-anchor="middle" textLength="7.5" lengthAdjust="spacingAndGlyphs" transform="rotate(-90 173 359)" dy="2.376">600</text>
<text x="173" y="379.5" fill="#fff" stroke="#fff" stroke-width=".35" font-weight="bold" font-size="6.6" text-anchor="middle" textLength="7.5" lengthAdjust="spacingAndGlyphs" transform="rotate(-90 173 379.5)" dy="2.376">600</text>
<text x="164" y="335" fill="#fff" stroke="#fff" stroke-width=".35" font-weight="bold" font-size="6.6" text-anchor="middle" textLength="11" lengthAdjust="spacingAndGlyphs" transform="rotate(-90 164 335)" dy="2.376">3000</text>
<line x1="182.5" y1="283" x2="457" y2="283" stroke="#4d607a" stroke-width="1.6" stroke-dasharray="8 2 2.5 2"/>
<line x1="456.7" y1="283" x2="739" y2="283" stroke="#cf5f6c" stroke-width="1.8"/>
<line x1="457" y1="283" x2="457" y2="329.5" stroke="#b85562" stroke-width="1"/>
<line x1="218.5" y1="330" x2="218.5" y2="388" stroke="#9db3c4" stroke-width="0.9"/>
<line x1="253.5" y1="330" x2="253.5" y2="388" stroke="#9db3c4" stroke-width="0.9"/>
<line x1="288.5" y1="330" x2="288.5" y2="388" stroke="#9db3c4" stroke-width="0.9"/>
<line x1="324" y1="330" x2="324" y2="388" stroke="#9db3c4" stroke-width="0.9"/>
<line x1="359" y1="330" x2="359" y2="388" stroke="#9db3c4" stroke-width="0.9"/>
<line x1="394" y1="330" x2="394" y2="388" stroke="#9db3c4" stroke-width="0.9"/>
<line x1="429.5" y1="330" x2="429.5" y2="388" stroke="#9db3c4" stroke-width="0.9"/>
<line x1="184" y1="347.3" x2="464.5" y2="347.3" stroke="#9db3c4" stroke-width="0.9"/>
<line x1="184" y1="370.8" x2="464.5" y2="370.8" stroke="#9db3c4" stroke-width="0.9"/>
<line x1="492" y1="283.5" x2="492" y2="388" stroke="#9db3c4" stroke-width="0.9"/>
<line x1="527" y1="283.5" x2="527" y2="388" stroke="#9db3c4" stroke-width="0.9"/>
<line x1="562.3" y1="283.5" x2="562.3" y2="388" stroke="#9db3c4" stroke-width="0.9"/>
<line x1="597.5" y1="283.5" x2="597.5" y2="388" stroke="#9db3c4" stroke-width="0.9"/>
<line x1="632.5" y1="283.5" x2="632.5" y2="388" stroke="#9db3c4" stroke-width="0.9"/>
<line x1="667.5" y1="283.5" x2="667.5" y2="388" stroke="#9db3c4" stroke-width="0.9"/>
<line x1="702.6" y1="283.5" x2="702.6" y2="388" stroke="#9db3c4" stroke-width="0.9"/>
<line x1="457" y1="300.6" x2="739" y2="300.6" stroke="#9db3c4" stroke-width="0.9"/>
<line x1="457" y1="318.3" x2="739" y2="318.3" stroke="#9db3c4" stroke-width="0.9"/>
<line x1="465" y1="335.5" x2="739" y2="335.5" stroke="#9db3c4" stroke-width="0.9"/>
<line x1="465" y1="353.3" x2="739" y2="353.3" stroke="#9db3c4" stroke-width="0.9"/>
<line x1="465" y1="370.8" x2="739" y2="370.8" stroke="#9db3c4" stroke-width="0.9"/>
<line x1="739" y1="283" x2="739" y2="389" stroke="#62c6c6" stroke-width="1.1"/>
<polyline points="184,388.6 184,329.8 464.6,329.8 464.6,388.6" fill="none" stroke="#f4f45e" stroke-width="1.6" />
<line x1="120" y1="388.8" x2="774" y2="388.8" stroke="#1717c6" stroke-width="1.4"/>
<polyline points="270.8,297 191.7,297 191.7,331" fill="none" stroke="#e6212d" stroke-width="1" />
<polyline points="270.8,313.3 198.3,313.3 198.3,342.5" fill="none" stroke="#e6212d" stroke-width="1" />
<polyline points="270.8,322.6 206.3,322.6 206.3,361" fill="none" stroke="#e6212d" stroke-width="1" />
<text x="216.7" y="294.768" fill="#38f82c" font-size="6.3" textLength="52.3" lengthAdjust="spacingAndGlyphs" font-weight="bold" stroke="#38f82c" stroke-width=".35" >2厚拉丝面(304#)不锈钢</text>
<text x="249" y="303.868" fill="#38f82c" font-size="6.3" textLength="20" lengthAdjust="spacingAndGlyphs" font-weight="bold" stroke="#38f82c" stroke-width=".35" >收边压条</text>
<text x="209" y="312.068" fill="#38f82c" font-size="6.3" textLength="60" lengthAdjust="spacingAndGlyphs" font-weight="bold" stroke="#38f82c" stroke-width=".35" >600×1200×15厚冰岛白色铝板</text>
<text x="209" y="320.66799999999995" fill="#38f82c" font-size="6.3" textLength="60" lengthAdjust="spacingAndGlyphs" font-weight="bold" stroke="#38f82c" stroke-width=".35" >400×1200×15厚冰岛白色铝板</text>
<polyline points="388,296.3 307,296.3 307,338" fill="none" stroke="#e6212d" stroke-width="1" />
<polyline points="388,314.2 310.3,314.2 310.3,352" fill="none" stroke="#e6212d" stroke-width="1" />
<text x="359" y="294.768" fill="#38f82c" font-size="6.3" textLength="28.5" lengthAdjust="spacingAndGlyphs" font-weight="bold" stroke="#38f82c" stroke-width=".35" >LOGO一大样图</text>
<text x="380" y="303.268" fill="#38f82c" font-size="6.3" textLength="7.5" lengthAdjust="spacingAndGlyphs" font-weight="bold" stroke="#38f82c" stroke-width=".35" >节点</text>
<text x="324.5" y="311.96799999999996" fill="#38f82c" font-size="6.3" textLength="63.5" lengthAdjust="spacingAndGlyphs" font-weight="bold" stroke="#38f82c" stroke-width=".35" >原色发光不锈钢LOGO, 外包30</text>
<text x="324.5" y="320.66799999999995" fill="#38f82c" font-size="6.3" textLength="63.5" lengthAdjust="spacingAndGlyphs" font-weight="bold" stroke="#38f82c" stroke-width=".35" >节点盒,专业厂家二次深化设计安装</text>
<circle cx="397.2" cy="297.2" r="8.3" fill="none" stroke="#ffffff" stroke-width="1.1"/>
<line x1="388.9" y1="297.2" x2="405.5" y2="297.2" stroke="#ffffff" stroke-width="0.8"/>
<line x1="397.2" y1="288.9" x2="397.2" y2="297.2" stroke="#ffffff" stroke-width="0.8"/>
<text x="392.4" y="295.5" fill="#ffffff" font-size="6.2" textLength="3.2" lengthAdjust="spacingAndGlyphs" font-weight="bold" stroke="#ffffff" stroke-width=".35" >7</text>
<text x="398.4" y="295.5" fill="#ffffff" font-size="6.2" textLength="5.6" lengthAdjust="spacingAndGlyphs" font-weight="bold" stroke="#ffffff" stroke-width=".35" >LD</text>
<text x="397.2" y="303.6" fill="#ffffff" font-size="7" text-anchor="middle" font-weight="bold" stroke="#ffffff" stroke-width=".35" >-</text>
<rect x="272.6" y="337.6" width="88.2" height="39" rx="4" fill="none" stroke="#e6212d" stroke-width="2" stroke-dasharray="9 1.5 2 1.5"/>
<path d="M318,351A10.6,10.6 0 1 0 318.5,369.5A10,10 0 1 1 318,351z" fill="#f4f45e" stroke="#f4f45e" stroke-width=".5"/>
<path d="M291.7,360.6h6l1,-.8 1,.8h4l.7,-2 .7,2h5l.8,-1 .8,1h4.2l.6,-7.4 .8,7.4h4l.8,-1.5 .8,1.5h4l.6,-3 .6,3h4l.8,-1 .8,1h3.6l.6,-2.5 .6,2.5h4l.5,-6.5 .6,4.5 1.6,-2.4 -1.4,2.6 2,1.8h6" fill="none" stroke="#fdfde0" stroke-width="1.1"/>
<text x="321.9" y="368.5" fill="#f4f45e" stroke="#f4f45e" stroke-width=".9" font-size="4.4" font-weight="bold" textLength="23.6" lengthAdjust="spacingAndGlyphs">星河湾产品体验馆</text>
<line x1="739" y1="283.2" x2="813" y2="283.2" stroke="#e6212d" stroke-width="1"/>
<line x1="716" y1="309.3" x2="813" y2="309.3" stroke="#e6212d" stroke-width="1"/>
<line x1="737" y1="361.3" x2="813" y2="361.3" stroke="#e6212d" stroke-width="1"/>
<text x="761" y="280.868" fill="#38f82c" font-size="6.3" textLength="52" lengthAdjust="spacingAndGlyphs" font-weight="bold" stroke="#38f82c" stroke-width=".35" >2厚拉丝面(304#)不锈钢</text>
<text x="792.5" y="289.768" fill="#38f82c" font-size="6.3" textLength="20.5" lengthAdjust="spacingAndGlyphs" font-weight="bold" stroke="#38f82c" stroke-width=".35" >收边压条</text>
<text x="752" y="307.568" fill="#38f82c" font-size="6.3" textLength="61" lengthAdjust="spacingAndGlyphs" font-weight="bold" stroke="#38f82c" stroke-width=".35" >600×1200×15厚冰岛白色铝板</text>
<text x="790" y="359.268" fill="#38f82c" font-size="6.3" textLength="23" lengthAdjust="spacingAndGlyphs" font-weight="bold" stroke="#38f82c" stroke-width=".35" >10宽留缝</text>
<line x1="183.3" y1="395.3" x2="739" y2="395.3" stroke="#e6212d" stroke-width="1"/>
<line x1="183.3" y1="404.6" x2="739" y2="404.6" stroke="#e6212d" stroke-width="1"/>
<line x1="183.3" y1="413.4" x2="739" y2="413.4" stroke="#e6212d" stroke-width="1"/>
<line x1="183.3" y1="391" x2="183.3" y2="417" stroke="#e6212d" stroke-width="1"/>
<line x1="739" y1="391" x2="739" y2="417" stroke="#e6212d" stroke-width="1"/>
<line x1="464.6" y1="391" x2="464.6" y2="409" stroke="#e6212d" stroke-width="1"/>
<line x1="218.5" y1="392" x2="218.5" y2="399" stroke="#e6212d" stroke-width="1"/>
<line x1="253.5" y1="392" x2="253.5" y2="399" stroke="#e6212d" stroke-width="1"/>
<line x1="288.5" y1="392" x2="288.5" y2="399" stroke="#e6212d" stroke-width="1"/>
<line x1="324" y1="392" x2="324" y2="399" stroke="#e6212d" stroke-width="1"/>
<line x1="359" y1="392" x2="359" y2="399" stroke="#e6212d" stroke-width="1"/>
<line x1="394" y1="392" x2="394" y2="399" stroke="#e6212d" stroke-width="1"/>
<line x1="429.5" y1="392" x2="429.5" y2="399" stroke="#e6212d" stroke-width="1"/>
<line x1="492" y1="392" x2="492" y2="399" stroke="#e6212d" stroke-width="1"/>
<line x1="527" y1="392" x2="527" y2="399" stroke="#e6212d" stroke-width="1"/>
<line x1="562.3" y1="392" x2="562.3" y2="399" stroke="#e6212d" stroke-width="1"/>
<line x1="597.5" y1="392" x2="597.5" y2="399" stroke="#e6212d" stroke-width="1"/>
<line x1="632.5" y1="392" x2="632.5" y2="399" stroke="#e6212d" stroke-width="1"/>
<line x1="667.5" y1="392" x2="667.5" y2="399" stroke="#e6212d" stroke-width="1"/>
<line x1="702.6" y1="392" x2="702.6" y2="399" stroke="#e6212d" stroke-width="1"/>
<text x="177.5" y="394.376" fill="#ffffff" font-size="6.6" textLength="5" lengthAdjust="spacingAndGlyphs" font-weight="bold" stroke="#ffffff" stroke-width=".35" >50</text>
<text x="197.0" y="394.376" fill="#ffffff" font-size="6.6" textLength="10" lengthAdjust="spacingAndGlyphs" font-weight="bold" stroke="#ffffff" stroke-width=".35" >1170</text>
<text x="231.7" y="394.376" fill="#ffffff" font-size="6.6" textLength="10" lengthAdjust="spacingAndGlyphs" font-weight="bold" stroke="#ffffff" stroke-width=".35" >1500</text>
<text x="266.7" y="394.376" fill="#ffffff" font-size="6.6" textLength="10" lengthAdjust="spacingAndGlyphs" font-weight="bold" stroke="#ffffff" stroke-width=".35" >1500</text>
<text x="301.5" y="394.376" fill="#ffffff" font-size="6.6" textLength="10" lengthAdjust="spacingAndGlyphs" font-weight="bold" stroke="#ffffff" stroke-width=".35" >1500</text>
<text x="336.5" y="394.376" fill="#ffffff" font-size="6.6" textLength="10" lengthAdjust="spacingAndGlyphs" font-weight="bold" stroke="#ffffff" stroke-width=".35" >1500</text>
<text x="371.5" y="394.376" fill="#ffffff" font-size="6.6" textLength="10" lengthAdjust="spacingAndGlyphs" font-weight="bold" stroke="#ffffff" stroke-width=".35" >1500</text>
<text x="408.3" y="394.376" fill="#ffffff" font-size="6.6" textLength="10" lengthAdjust="spacingAndGlyphs" font-weight="bold" stroke="#ffffff" stroke-width=".35" >1500</text>
<text x="505.0" y="394.376" fill="#ffffff" font-size="6.6" textLength="10" lengthAdjust="spacingAndGlyphs" font-weight="bold" stroke="#ffffff" stroke-width=".35" >1500</text>
<text x="540.0" y="394.376" fill="#ffffff" font-size="6.6" textLength="10" lengthAdjust="spacingAndGlyphs" font-weight="bold" stroke="#ffffff" stroke-width=".35" >1500</text>
<text x="575.0" y="394.376" fill="#ffffff" font-size="6.6" textLength="10" lengthAdjust="spacingAndGlyphs" font-weight="bold" stroke="#ffffff" stroke-width=".35" >1500</text>
<text x="610.0" y="394.376" fill="#ffffff" font-size="6.6" textLength="10" lengthAdjust="spacingAndGlyphs" font-weight="bold" stroke="#ffffff" stroke-width=".35" >1500</text>
<text x="645.0" y="394.376" fill="#ffffff" font-size="6.6" textLength="10" lengthAdjust="spacingAndGlyphs" font-weight="bold" stroke="#ffffff" stroke-width=".35" >1500</text>
<text x="680.0" y="394.376" fill="#ffffff" font-size="6.6" textLength="10" lengthAdjust="spacingAndGlyphs" font-weight="bold" stroke="#ffffff" stroke-width=".35" >1500</text>
<text x="442.8" y="394.376" fill="#ffffff" font-size="6.6" textLength="10" lengthAdjust="spacingAndGlyphs" font-weight="bold" stroke="#ffffff" stroke-width=".35" >1170</text>
<text x="462.5" y="394.376" fill="#ffffff" font-size="6.6" textLength="5" lengthAdjust="spacingAndGlyphs" font-weight="bold" stroke="#ffffff" stroke-width=".35" >50</text>
<text x="474.5" y="394.376" fill="#ffffff" font-size="6.6" textLength="8" lengthAdjust="spacingAndGlyphs" font-weight="bold" stroke="#ffffff" stroke-width=".35" >805</text>
<text x="715.5" y="394.376" fill="#ffffff" font-size="6.6" textLength="10" lengthAdjust="spacingAndGlyphs" font-weight="bold" stroke="#ffffff" stroke-width=".35" >1305</text>
<text x="740.5" y="394.376" fill="#ffffff" font-size="6.6" textLength="5" lengthAdjust="spacingAndGlyphs" font-weight="bold" stroke="#ffffff" stroke-width=".35" >50</text>
<text x="319.0" y="403.376" fill="#ffffff" font-size="6.6" textLength="10" lengthAdjust="spacingAndGlyphs" font-weight="bold" stroke="#ffffff" stroke-width=".35" >5900</text>
<text x="597.0" y="403.376" fill="#ffffff" font-size="6.6" textLength="10" lengthAdjust="spacingAndGlyphs" font-weight="bold" stroke="#ffffff" stroke-width=".35" >8515</text>
<text x="455.7" y="412.376" fill="#ffffff" font-size="6.6" textLength="12" lengthAdjust="spacingAndGlyphs" font-weight="bold" stroke="#ffffff" stroke-width=".35" >14415</text>
<circle cx="461.7" cy="441.7" r="7.5" fill="none" stroke="#33e04a" stroke-width="1.3"/>
<text x="461.7" y="445.9" fill="#ffffff" font-size="12" text-anchor="middle" font-weight="bold" font-family="Liberation Serif,serif">2</text>
<text x="472.5" y="439.824" fill="#38f82c" font-size="8.4" textLength="45.8" lengthAdjust="spacingAndGlyphs" font-weight="bold" stroke="#38f82c" stroke-width=".35" >景墙一立面图一</text>
<line x1="470.0" y1="441.8" x2="547.5" y2="441.8" stroke="#38f82c" stroke-width="3"/>
<text x="473.0" y="447.756" fill="#38f82c" stroke="#38f82c" stroke-width="1.5" font-weight="bold" font-size="4.6" textLength="7.0" lengthAdjust="spacingAndGlyphs">1:50</text>
<text x="541.0" y="440.056" fill="#38f82c" stroke="#38f82c" stroke-width="1.5" font-weight="bold" font-size="4.6" textLength="6.0" lengthAdjust="spacingAndGlyphs">比例</text>
<text x="541.0" y="447.756" fill="#38f82c" stroke="#38f82c" stroke-width="1.5" font-weight="bold" font-size="4.6" textLength="6.0" lengthAdjust="spacingAndGlyphs">1:50</text>
</g>
<g id="g1">
<path d="M210.5,473V546.6M228.5,473V546.6M246.5,473V546.6M264.5,473V546.6M283.5,473V546.6M301.5,473V546.6M319.5,473V546.6M338.5,473V546.6M356.5,473V546.6M374.5,473V546.6M392.5,473V546.6M202,539.5H395M202,521.5H395M202,503.5H395M202,485.5H395" fill="none" stroke="#2a6ccc" stroke-width="1.15"/>
<path d="M202.5,473V546.6M206.5,473V546.6M213.5,473V546.6M217.5,473V546.6M220.5,473V546.6M224.5,473V546.6M231.5,473V546.6M235.5,473V546.6M239.5,473V546.6M242.5,473V546.6M250.5,473V546.6M253.5,473V546.6M257.5,473V546.6M261.5,473V546.6M268.5,473V546.6M272.5,473V546.6M275.5,473V546.6M279.5,473V546.6M286.5,473V546.6M290.5,473V546.6M294.5,473V546.6M297.5,473V546.6M305.5,473V546.6M308.5,473V546.6M312.5,473V546.6M316.5,473V546.6M323.5,473V546.6M327.5,473V546.6M330.5,473V546.6M334.5,473V546.6M341.5,473V546.6M345.5,473V546.6M349.5,473V546.6M352.5,473V546.6M360.5,473V546.6M363.5,473V546.6M367.5,473V546.6M371.5,473V546.6M378.5,473V546.6M382.5,473V546.6M385.5,473V546.6M389.5,473V546.6M202,546.5H395M202,543.5H395M202,536.5H395M202,532.5H395M202,528.5H395M202,525.5H395M202,517.5H395M202,514.5H395M202,510.5H395M202,506.5H395M202,499.5H395M202,496.5H395M202,492.5H395M202,488.5H395M202,481.5H395M202,477.5H395M202,474.5H395" fill="none" stroke="#aadfd2" stroke-width="1" stroke-opacity=".64"/>
<text x="209.5" y="554.9" fill="#38f82c" font-size="6.6" text-anchor="middle" font-weight="bold" stroke="#38f82c" stroke-width=".35" >0</text>
<text x="227.8" y="554.9" fill="#38f82c" font-size="6.6" text-anchor="middle" textLength="8.25" lengthAdjust="spacingAndGlyphs" font-weight="bold" stroke="#38f82c" stroke-width=".35" >250</text>
<text x="246.2" y="554.9" fill="#38f82c" font-size="6.6" text-anchor="middle" textLength="8.25" lengthAdjust="spacingAndGlyphs" font-weight="bold" stroke="#38f82c" stroke-width=".35" >500</text>
<text x="264.5" y="554.9" fill="#38f82c" font-size="6.6" text-anchor="middle" textLength="8.25" lengthAdjust="spacingAndGlyphs" font-weight="bold" stroke="#38f82c" stroke-width=".35" >750</text>
<text x="282.8" y="554.9" fill="#38f82c" font-size="6.6" text-anchor="middle" textLength="11.0" lengthAdjust="spacingAndGlyphs" font-weight="bold" stroke="#38f82c" stroke-width=".35" >1000</text>
<text x="301.1" y="554.9" fill="#38f82c" font-size="6.6" text-anchor="middle" textLength="11.0" lengthAdjust="spacingAndGlyphs" font-weight="bold" stroke="#38f82c" stroke-width=".35" >1250</text>
<text x="319.5" y="554.9" fill="#38f82c" font-size="6.6" text-anchor="middle" textLength="11.0" lengthAdjust="spacingAndGlyphs" font-weight="bold" stroke="#38f82c" stroke-width=".35" >1500</text>
<text x="337.8" y="554.9" fill="#38f82c" font-size="6.6" text-anchor="middle" textLength="11.0" lengthAdjust="spacingAndGlyphs" font-weight="bold" stroke="#38f82c" stroke-width=".35" >1750</text>
<text x="356.1" y="554.9" fill="#38f82c" font-size="6.6" text-anchor="middle" textLength="11.0" lengthAdjust="spacingAndGlyphs" font-weight="bold" stroke="#38f82c" stroke-width=".35" >2000</text>
<text x="374.5" y="554.9" fill="#38f82c" font-size="6.6" text-anchor="middle" textLength="11.0" lengthAdjust="spacingAndGlyphs" font-weight="bold" stroke="#38f82c" stroke-width=".35" >2250</text>
<text x="392.8" y="554.9" fill="#38f82c" font-size="6.6" text-anchor="middle" textLength="11.0" lengthAdjust="spacingAndGlyphs" font-weight="bold" stroke="#38f82c" stroke-width=".35" >2500</text>
<text x="189.8" y="487.1" fill="#38f82c" font-size="7" text-anchor="middle" textLength="9.6" lengthAdjust="spacingAndGlyphs" font-weight="bold" stroke="#38f82c" stroke-width=".35" >750</text>
<text x="189.8" y="505.3" fill="#38f82c" font-size="7" text-anchor="middle" textLength="9.6" lengthAdjust="spacingAndGlyphs" font-weight="bold" stroke="#38f82c" stroke-width=".35" >500</text>
<text x="189.8" y="523.5" fill="#38f82c" font-size="7" text-anchor="middle" textLength="9.6" lengthAdjust="spacingAndGlyphs" font-weight="bold" stroke="#38f82c" stroke-width=".35" >250</text>
<text x="189.8" y="541.7" fill="#38f82c" font-size="7" text-anchor="middle" font-weight="bold" stroke="#38f82c" stroke-width=".35" >0</text>
</g>
<g id="g2">
<path d="M528.5,473V546.6M546.5,473V546.6M564.5,473V546.6M582.5,473V546.6M601.5,473V546.6M619.5,473V546.6M637.5,473V546.6M656.5,473V546.6M674.5,473V546.6M692.5,473V546.6M710.5,473V546.6M520.4,539.5H713M520.4,521.5H713M520.4,503.5H713M520.4,485.5H713" fill="none" stroke="#2a6ccc" stroke-width="1.15"/>
<path d="M524.5,473V546.6M531.5,473V546.6M535.5,473V546.6M538.5,473V546.6M542.5,473V546.6M549.5,473V546.6M553.5,473V546.6M557.5,473V546.6M560.5,473V546.6M568.5,473V546.6M571.5,473V546.6M575.5,473V546.6M579.5,473V546.6M586.5,473V546.6M590.5,473V546.6M593.5,473V546.6M597.5,473V546.6M604.5,473V546.6M608.5,473V546.6M612.5,473V546.6M615.5,473V546.6M623.5,473V546.6M626.5,473V546.6M630.5,473V546.6M634.5,473V546.6M641.5,473V546.6M645.5,473V546.6M648.5,473V546.6M652.5,473V546.6M659.5,473V546.6M663.5,473V546.6M667.5,473V546.6M670.5,473V546.6M678.5,473V546.6M681.5,473V546.6M685.5,473V546.6M689.5,473V546.6M696.5,473V546.6M700.5,473V546.6M703.5,473V546.6M707.5,473V546.6M520.4,546.5H713M520.4,543.5H713M520.4,536.5H713M520.4,532.5H713M520.4,528.5H713M520.4,525.5H713M520.4,517.5H713M520.4,514.5H713M520.4,510.5H713M520.4,506.5H713M520.4,499.5H713M520.4,496.5H713M520.4,492.5H713M520.4,488.5H713M520.4,481.5H713M520.4,477.5H713M520.4,474.5H713" fill="none" stroke="#aadfd2" stroke-width="1" stroke-opacity=".64"/>
<text x="527.5" y="554.9" fill="#38f82c" font-size="6.6" text-anchor="middle" font-weight="bold" stroke="#38f82c" stroke-width=".35" >0</text>
<text x="545.8" y="554.9" fill="#38f82c" font-size="6.6" text-anchor="middle" textLength="8.25" lengthAdjust="spacingAndGlyphs" font-weight="bold" stroke="#38f82c" stroke-width=".35" >250</text>
<text x="564.2" y="554.9" fill="#38f82c" font-size="6.6" text-anchor="middle" textLength="8.25" lengthAdjust="spacingAndGlyphs" font-weight="bold" stroke="#38f82c" stroke-width=".35" >500</text>
<text x="582.5" y="554.9" fill="#38f82c" font-size="6.6" text-anchor="middle" textLength="8.25" lengthAdjust="spacingAndGlyphs" font-weight="bold" stroke="#38f82c" stroke-width=".35" >750</text>
<text x="600.8" y="554.9" fill="#38f82c" font-size="6.6" text-anchor="middle" textLength="11.0" lengthAdjust="spacingAndGlyphs" font-weight="bold" stroke="#38f82c" stroke-width=".35" >1000</text>
<text x="619.1" y="554.9" fill="#38f82c" font-size="6.6" text-anchor="middle" textLength="11.0" lengthAdjust="spacingAndGlyphs" font-weight="bold" stroke="#38f82c" stroke-width=".35" >1250</text>
<text x="637.5" y="554.9" fill="#38f82c" font-size="6.6" text-anchor="middle" textLength="11.0" lengthAdjust="spacingAndGlyphs" font-weight="bold" stroke="#38f82c" stroke-width=".35" >1500</text>
<text x="655.8" y="554.9" fill="#38f82c" font-size="6.6" text-anchor="middle" textLength="11.0" lengthAdjust="spacingAndGlyphs" font-weight="bold" stroke="#38f82c" stroke-width=".35" >1750</text>
<text x="674.1" y="554.9" fill="#38f82c" font-size="6.6" text-anchor="middle" textLength="11.0" lengthAdjust="spacingAndGlyphs" font-weight="bold" stroke="#38f82c" stroke-width=".35" >2000</text>
<text x="692.5" y="554.9" fill="#38f82c" font-size="6.6" text-anchor="middle" textLength="11.0" lengthAdjust="spacingAndGlyphs" font-weight="bold" stroke="#38f82c" stroke-width=".35" >2250</text>
<text x="710.8" y="554.9" fill="#38f82c" font-size="6.6" text-anchor="middle" textLength="11.0" lengthAdjust="spacingAndGlyphs" font-weight="bold" stroke="#38f82c" stroke-width=".35" >2500</text>
<text x="508.2" y="487.1" fill="#38f82c" font-size="7" text-anchor="middle" textLength="9.6" lengthAdjust="spacingAndGlyphs" font-weight="bold" stroke="#38f82c" stroke-width=".35" >750</text>
<text x="508.2" y="505.3" fill="#38f82c" font-size="7" text-anchor="middle" textLength="9.6" lengthAdjust="spacingAndGlyphs" font-weight="bold" stroke="#38f82c" stroke-width=".35" >500</text>
<text x="508.2" y="523.5" fill="#38f82c" font-size="7" text-anchor="middle" textLength="9.6" lengthAdjust="spacingAndGlyphs" font-weight="bold" stroke="#38f82c" stroke-width=".35" >250</text>
<text x="508.2" y="541.7" fill="#38f82c" font-size="7" text-anchor="middle" font-weight="bold" stroke="#38f82c" stroke-width=".35" >0</text>
</g>
<path d="M281,483.5A28,28 0 1 0 279.5,536.2" fill="none" stroke="#d6f25a" stroke-width="1.5" stroke-dasharray="6 1"/>
<path d="M276,485.5A25.5,25.5 0 0 0 250.5,497" fill="none" stroke="#d6f25a" stroke-width="1" stroke-dasharray="4 2"/>
<polyline points="217.7,510.5 226,510.5 228,509.3 231,511 238,510.5 240,508 242,510.5 250,510.5 252,509 254,510.5 259,510.5 260,503.5 261,510.5 268,510.5 270,508 272,510.5 280,510.5 282,509 284,510.5 287.5,510.5 288.5,492 289.8,510.5 297,510.5 299,508.5 301,510.5 309,510.5 310,507 311,510.5 318,510.5 320,509 322,510.5 330,510.5 331,506 332,510.5 339,510.5 341,508.5 343,510.5 349,510.5 350.5,505 352,510.5 355,510.5 356,497 357,507 361,502 358,507 363,510.5 368,511.6 377,512" fill="none" stroke="#d6f25a" stroke-width="1.7" stroke-linejoin="round"/>
<ellipse cx="288.6" cy="500.5" rx="1.5" ry="8" fill="#d6f25a"/>
<text x="289.6" y="530.4" fill="#e6f23c" stroke="#e6f23c" stroke-width=".7" font-size="8.3" font-weight="bold" textLength="63.4" lengthAdjust="spacingAndGlyphs">星河湾产品体验馆</text>
<line x1="316.7" y1="528.7" x2="468" y2="528.7" stroke="#e6212d" stroke-width="1"/>
<text x="405" y="525.64" fill="#38f82c" font-size="6.5" textLength="62.5" lengthAdjust="spacingAndGlyphs" font-weight="bold" stroke="#38f82c" stroke-width=".35" >原色发光不锈钢LOGO, 外包30</text>
<text x="405" y="534.64" fill="#38f82c" font-size="6.5" textLength="62.5" lengthAdjust="spacingAndGlyphs" font-weight="bold" stroke="#38f82c" stroke-width=".35" >节点盒,专业厂家二次深化设计安装</text>
<path d="M630,484A28,28 0 1 1 627.5,533.5" fill="none" stroke="#d6f25a" stroke-width="1.5" stroke-dasharray="6 1"/>
<path d="M640,484.5A25.5,25.5 0 0 1 664,497" fill="none" stroke="#d6f25a" stroke-width="1" stroke-dasharray="4 2"/>
<polyline points="535.8,511 548,511 551,510 554,509 556.5,505 557.5,495.5 558.5,505 562,509.5 566,510.5 572,510.5 574,509 576,510.5 583,510.5 584,507 585,512.5 586,510.5 593,510.5 595,509 597,510.5 604,510.5 605.5,508 607,510.5 614,510.5 616,509 618,510.5 626.5,510.5 627.5,493 628.8,510.5 636,510.5 638,508.5 640,510.5 648,510.5 649,506.5 650,510.5 657,510.5 659,509 661,510.5 669,510.5 671,508 674,510 680,511.5 684,509.5 688,511.5 699,511.5" fill="none" stroke="#d6f25a" stroke-width="1.7" stroke-linejoin="round"/>
<ellipse cx="627.6" cy="501" rx="1.5" ry="8" fill="#d6f25a"/>
<path d="M553,510L557.5,497L562,510" fill="none" stroke="#d6f25a" stroke-width="1.6"/>
<text x="559.8" y="531" fill="#e6f23c" stroke="#e6f23c" stroke-width=".7" font-size="8.3" font-weight="bold" textLength="63" lengthAdjust="spacingAndGlyphs">星河湾产品体验馆</text>
<line x1="622" y1="528.7" x2="786" y2="528.7" stroke="#e6212d" stroke-width="1"/>
<text x="723.8" y="525.64" fill="#38f82c" font-size="6.5" textLength="62.4" lengthAdjust="spacingAndGlyphs" font-weight="bold" stroke="#38f82c" stroke-width=".35" >原色发光不锈钢LOGO, 外包30</text>
<text x="723.8" y="534.5400000000001" fill="#38f82c" font-size="6.5" textLength="62.4" lengthAdjust="spacingAndGlyphs" font-weight="bold" stroke="#38f82c" stroke-width=".35" >节点盒,专业厂家二次深化设计安装</text>
<circle cx="265.4" cy="574.8" r="7.4" fill="none" stroke="#33e04a" stroke-width="1.3"/>
<text x="265.4" y="578.9" fill="#ffffff" font-size="11.5" text-anchor="middle" font-weight="bold" font-family="Liberation Serif,serif">3</text>
<text x="275.4" y="573.736" fill="#38f82c" font-size="7.6" textLength="39.2" lengthAdjust="spacingAndGlyphs" font-weight="bold" stroke="#38f82c" stroke-width=".35" >LOGO一大样图</text>
<line x1="274.4" y1="575.8" x2="342" y2="575.8" stroke="#38f82c" stroke-width="3"/>
<text x="276.2" y="581.584" fill="#38f82c" stroke="#38f82c" stroke-width="1.5" font-weight="bold" font-size="4.4" textLength="7.0" lengthAdjust="spacingAndGlyphs">1:10</text>
<text x="330" y="573.4559999999999" fill="#38f82c" stroke="#38f82c" stroke-width="1.5" font-weight="bold" font-size="4.6" textLength="9" lengthAdjust="spacingAndGlyphs">比例尺</text>
<text x="324" y="581.584" fill="#38f82c" stroke="#38f82c" stroke-width="1.5" font-weight="bold" font-size="4.4" textLength="17.5" lengthAdjust="spacingAndGlyphs">SCALE 1:10</text>
<circle cx="579.8" cy="574.8" r="7.4" fill="none" stroke="#33e04a" stroke-width="1.3"/>
<text x="579.8" y="578.9" fill="#ffffff" font-size="11.5" text-anchor="middle" font-weight="bold" font-family="Liberation Serif,serif">4</text>
<text x="590.2" y="573.736" fill="#38f82c" font-size="7.6" textLength="39.6" lengthAdjust="spacingAndGlyphs" font-weight="bold" stroke="#38f82c" stroke-width=".35" >LOGO二大样图</text>
<line x1="589.2" y1="575.8" x2="656.9" y2="575.8" stroke="#38f82c" stroke-width="3"/>
<text x="591.0" y="581.584" fill="#38f82c" stroke="#38f82c" stroke-width="1.5" font-weight="bold" font-size="4.4" textLength="7.0" lengthAdjust="spacingAndGlyphs">1:10</text>
<text x="644.9" y="573.4559999999999" fill="#38f82c" stroke="#38f82c" stroke-width="1.5" font-weight="bold" font-size="4.6" textLength="9.0" lengthAdjust="spacingAndGlyphs">比例尺</text>
<text x="638.9" y="581.584" fill="#38f82c" stroke="#38f82c" stroke-width="1.5" font-weight="bold" font-size="4.4" textLength="17.5" lengthAdjust="spacingAndGlyphs">SCALE 1:10</text>
<text x="365.6" y="577.14" fill="#38f82c" font-size="6.5" textLength="58.8" lengthAdjust="spacingAndGlyphs" font-weight="bold" stroke="#38f82c" stroke-width=".35" >注:小网格为50mm X 50mm;</text>
<text x="371.7" y="585.0400000000001" fill="#38f82c" font-size="6.5" textLength="60.0" lengthAdjust="spacingAndGlyphs" font-weight="bold" stroke="#38f82c" stroke-width=".35" >大网格为250mm X 250mm。</text>
<text x="693.3" y="577.14" fill="#38f82c" font-size="6.5" textLength="58.4" lengthAdjust="spacingAndGlyphs" font-weight="bold" stroke="#38f82c" stroke-width=".35" >注:小网格为50mm X 50mm;</text>
<text x="698.5" y="585.0400000000001" fill="#38f82c" font-size="6.5" textLength="60.5" lengthAdjust="spacingAndGlyphs" font-weight="bold" stroke="#38f82c" stroke-width=".35" >大网格为250mm X 250mm。</text>
<g id="wm" fill="#fff" fill-opacity=".195" font-size="25.5" font-weight="bold" font-style="italic">
<text x="56.5" y="58.7" textLength="81.5" lengthAdjust="spacingAndGlyphs">景观街</text>
<text x="440.5" y="58.7" textLength="81.5" lengthAdjust="spacingAndGlyphs">景观街</text>
<text x="824.5" y="58.7" textLength="81.5" lengthAdjust="spacingAndGlyphs">景观街</text>
<text x="248.5" y="158.7" textLength="81.5" lengthAdjust="spacingAndGlyphs">景观街</text>
<text x="632.5" y="158.7" textLength="81.5" lengthAdjust="spacingAndGlyphs">景观街</text>
<text x="56.5" y="258.7" textLength="81.5" lengthAdjust="spacingAndGlyphs">景观街</text>
<text x="440.5" y="258.7" textLength="81.5" lengthAdjust="spacingAndGlyphs">景观街</text>
<text x="824.5" y="258.7" textLength="81.5" lengthAdjust="spacingAndGlyphs">景观街</text>
<text x="248.5" y="358.7" textLength="81.5" lengthAdjust="spacingAndGlyphs">景观街</text>
<text x="632.5" y="358.7" textLength="81.5" lengthAdjust="spacingAndGlyphs">景观街</text>
<text x="56.5" y="458.7" textLength="81.5" lengthAdjust="spacingAndGlyphs">景观街</text>
<text x="440.5" y="458.7" textLength="81.5" lengthAdjust="spacingAndGlyphs">景观街</text>
<text x="824.5" y="458.7" textLength="81.5" lengthAdjust="spacingAndGlyphs">景观街</text>
<text x="248.5" y="558.7" textLength="81.5" lengthAdjust="spacingAndGlyphs">景观街</text>
<text x="632.5" y="558.7" textLength="81.5" lengthAdjust="spacingAndGlyphs">景观街</text>
</g>
</svg>
</body></html>
